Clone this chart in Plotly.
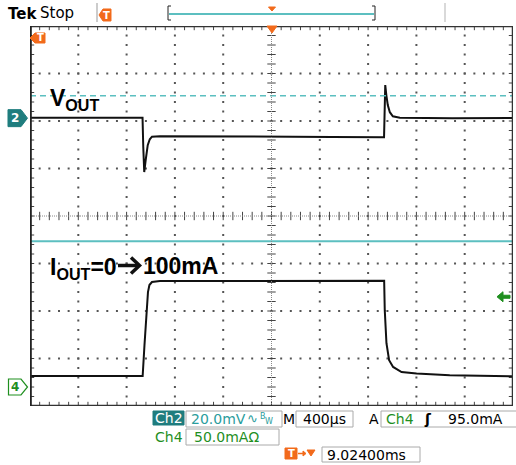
import plotly.graph_objects as go

# ---- acquisition data (time in µs from left edge of screen, 400 µs/div) ----
t_vout = [0, 400, 800, 932, 938, 946, 958, 975, 992, 1010, 1076, 1500, 2000, 2500,
          2932, 2937, 2942, 2951, 2963, 2980, 3005, 3063, 3500, 4000]
vout_mv = [0.2, 0.3, 0.2, 0.2, -12.0, -22.7, -17.7, -11.4, -8.9, -7.8, -7.6, -7.6,
           -7.8, -7.9, -8.0, 8.0, 13.9, 9.7, 5.5, 2.5, 0.8, 0.2, 0.0, 0.1]

t_iout = [0, 500, 933, 948, 964, 977, 989, 1010, 1076, 1500, 2000, 2500, 2933,
          2938, 2952, 2974, 3007, 3077, 3201, 3476, 3998]
iout_ma = [11.6, 11.6, 11.6, 44.0, 75.6, 99.9, 107.3, 110.5, 111.5, 111.6, 111.8,
           111.8, 111.8, 80.9, 46.1, 28.2, 21.1, 15.8, 14.1, 12.3, 11.3]

# channel settings
ch2_scale_mv = 20.0
ch4_scale_ma = 50.0
ch2_pos = 2.06      # divisions
ch4_pos = -3.60     # divisions
time_per_div = 400.0
trig_level_ma = 95.0
cursor_dash_div = 2.53
cursor_solid_div = -0.53

# ---- screen geometry (pixels) ----
W, H = 516, 465
L, R, T, B = 30, 513, 26, 406


def px(x):
    return (x - L) / (R - L)


def py(y):
    return (B - y) / (B - T)


TEAL = "#2a9d9d"
TEAL_L = "#5cbfc0"
GREEN = "#1f8f1f"
ORANGE = "#f26a1b"
FONT = "DejaVu Sans"

fig = go.Figure()

# graticule dots on major lines
gx, gy = [], []
for i in range(1, 10):
    if i == 5:
        continue
    for k in range(1, 40):
        gx.append(i)
        gy.append(-4 + k * 0.2)
for j in range(-3, 4):
    if j == 0:
        continue
    for k in range(1, 50):
        gx.append(k * 0.2)
        gy.append(j)
fig.add_trace(go.Scatter(x=gx, y=gy, mode="markers", hoverinfo="skip",
                         marker=dict(symbol="square", size=2, color="#555")))

# centre cross ticks and border ticks
hx = [k * 0.2 for k in range(1, 50)]
vy = [-4 + k * 0.2 for k in range(1, 40)]
tick_ns = dict(symbol="line-ns", size=6, line=dict(width=1, color="#444"))
tick_ew = dict(symbol="line-ew", size=6, line=dict(width=1, color="#444"))
fig.add_trace(go.Scatter(x=hx, y=[0] * len(hx), mode="markers", marker=tick_ns, hoverinfo="skip"))
fig.add_trace(go.Scatter(x=[5] * len(vy), y=vy, mode="markers", marker=tick_ew, hoverinfo="skip"))
fig.add_trace(go.Scatter(x=hx, y=[4] * len(hx), mode="markers", marker=tick_ns, hoverinfo="skip"))
fig.add_trace(go.Scatter(x=hx, y=[-4] * len(hx), mode="markers", marker=tick_ns, hoverinfo="skip"))
fig.add_trace(go.Scatter(x=[0] * len(vy), y=vy, mode="markers", marker=tick_ew, hoverinfo="skip"))
fig.add_trace(go.Scatter(x=[10] * len(vy), y=vy, mode="markers", marker=tick_ew, hoverinfo="skip"))

# cursor lines
fig.add_shape(type="line", x0=0, x1=10, y0=cursor_dash_div, y1=cursor_dash_div,
              line=dict(color=TEAL_L, width=1.5, dash="6px,4px"))
fig.add_shape(type="line", x0=0, x1=10, y0=cursor_solid_div, y1=cursor_solid_div,
              line=dict(color=TEAL_L, width=2))
# centre cross lines
fig.add_shape(type="line", x0=0, x1=10, y0=0, y1=0, line=dict(color="#888", width=1, dash="1px,1px"))
fig.add_shape(type="line", x0=5, x1=5, y0=-4, y1=4, line=dict(color="#888", width=1, dash="1px,1px"))

# waveforms
fig.add_trace(go.Scatter(x=[t / time_per_div for t in t_vout],
                         y=[ch2_pos + v / ch2_scale_mv for v in vout_mv],
                         mode="lines", line=dict(color="#111", width=2), hoverinfo="skip"))
fig.add_trace(go.Scatter(x=[t / time_per_div for t in t_iout],
                         y=[ch4_pos + i / ch4_scale_ma for i in iout_ma],
                         mode="lines", line=dict(color="#111", width=2), hoverinfo="skip"))

# border
fig.add_shape(type="rect", x0=0, x1=10, y0=-4, y1=4, line=dict(color="#333", width=2.5))
fig.add_shape(type="line", x0=0, x1=0, y0=-4, y1=4, line=dict(color="#222", width=3.5))


def prect(x0, y0, x1, y1, fill="white", line="#aaa", lw=1):
    fig.add_shape(type="rect", xref="paper", yref="paper", x0=px(x0), x1=px(x1),
                  y0=py(y1), y1=py(y0), fillcolor=fill, line=dict(color=line, width=lw),
                  layer="above")


def pline(x0, y0, x1, y1, color, w=1):
    fig.add_shape(type="line", xref="paper", yref="paper", x0=px(x0), x1=px(x1),
                  y0=py(y0), y1=py(y1), line=dict(color=color, width=w), layer="above")


def ppath(pts, fill, line=None, lw=1, close=True):
    d = "M " + " L ".join(f"{px(x):.5f},{py(y):.5f}" for x, y in pts) + (" Z" if close else "")
    fig.add_shape(type="path", xref="paper", yref="paper", path=d,
                  fillcolor=fill if close else None,
                  line=dict(color=line or fill, width=lw), layer="above")


def ptext(x, y, text, size=14, color="black", xanchor="left", family=FONT):
    fig.add_annotation(xref="paper", yref="paper", x=px(x), y=py(y), text=text,
                       showarrow=False, xanchor=xanchor, yanchor="middle",
                       font=dict(family=family, size=size, color=color),
                       borderpad=0)


# ---- top status bar ----
ptext(7, 14, "<b>Tek</b>", size=15)
ptext(39, 13, "Stop", size=15)
pline(97, 3, 97, 22, "#bbb", 1.5)
ppath([(99, 15), (103, 9), (111, 9), (111, 21), (103, 21)], ORANGE)
ptext(106.5, 15, "<b>T</b>", size=10, color="white", xanchor="center")
pline(168, 6, 168, 20, "#222", 1)
pline(168, 6, 171, 6, "#222", 1)
pline(168, 20, 171, 20, "#222", 1)
pline(375, 6, 375, 20, "#222", 1)
pline(372, 6, 375, 6, "#222", 1)
pline(372, 20, 375, 20, "#222", 1)
pline(169, 14, 374, 14, TEAL_L, 2)
ppath([(268.5, 7), (275.5, 7), (272, 11)], ORANGE)
pline(445, 3, 445, 22, "#ccc", 1.5)

# trigger position markers on graticule
ppath([(267, 26), (277, 26), (272, 33)], ORANGE)
ppath([(30, 38), (35, 33), (45, 33), (45, 43), (35, 43)], ORANGE)
ptext(40.5, 38, "<b>T</b>", size=10, color="white", xanchor="center")

# channel ground markers
y2 = T + (4 - ch2_pos) * (B - T) / 8
ppath([(8, y2 - 8.5), (21, y2 - 8.5), (27.5, y2), (21, y2 + 8.5), (8, y2 + 8.5)], "#1f7d7e")
ptext(15, y2, "<b>2</b>", size=12, color="white", xanchor="center")
y4 = T + (4 - ch4_pos) * (B - T) / 8
ppath([(8.5, y4 - 8), (21, y4 - 8), (27.5, y4), (21, y4 + 8), (8.5, y4 + 8)], "white", GREEN, 1.2)
ptext(15, y4, "<b>4</b>", size=12, color=GREEN, xanchor="center")

# trigger level arrow (right edge)
yt = T + (4 - (ch4_pos + trig_level_ma / ch4_scale_ma)) * (B - T) / 8
ppath([(497, yt), (503, yt - 5), (503, yt - 1.5), (510, yt - 1.5), (510, yt + 1.5),
       (503, yt + 1.5), (503, yt + 5)], GREEN)

# signal labels
ptext(49, 99, "<b>V<sub>OUT</sub></b>", size=23, family="Liberation Sans")
ptext(49, 268, "<b>I<sub>OUT</sub>=0</b>", size=23, family="Liberation Sans")
ptext(142, 266, "<b>100mA</b>", size=23, family="Liberation Sans")
# heavy arrow between "0" and "100mA"
pline(118, 265.5, 138, 265.5, "#111", 3.5)
ppath([(131, 257.5), (139.5, 265.5), (131, 273.5)], None, "#111", 3.5, close=False)

# ---- bottom readouts ----
prect(153, 411, 184, 425, fill="#1f7d7e", line="#1f7d7e")
ptext(168.5, 418, "Ch2", size=14, color="white", xanchor="center")
prect(186, 411, 282, 427)
ptext(190, 419, "20.0mV", size=14, color=TEAL)
ptext(246, 418, "∿", size=13, color=TEAL)
ptext(259, 416, "B", size=8, color=TEAL)
ptext(264, 421, "W", size=8, color=TEAL)
ptext(288.5, 419, "M", size=14, xanchor="center")
prect(296, 411, 353, 427)
ptext(324.5, 419, "400µs", size=14, xanchor="center")
ptext(373.5, 419, "A", size=14, xanchor="center")
prect(381, 411, 518, 427)
ptext(385, 419, "Ch4", size=14, color=GREEN)
ptext(423, 419, "<b>ʃ</b>", size=14)
ptext(447, 419, "95.0mA", size=14)

ptext(168.5, 436.5, "Ch4", size=14, color=GREEN, xanchor="center")
prect(186, 429, 279, 445)
ptext(193, 437, "50.0mAΩ", size=14, color=GREEN)

prect(285, 448, 297, 459, fill=ORANGE, line=ORANGE)
ptext(291, 453.5, "<b>T</b>", size=10, color="white", xanchor="center")
pline(298, 453.5, 305, 453.5, ORANGE, 1.5)
ppath([(303, 451), (306, 453.5), (303, 456)], ORANGE)
ppath([(307, 450), (315, 450), (311, 456)], ORANGE)
prect(322, 447, 420, 462)
ptext(326, 455, "9.02400ms", size=14)

fig.update_layout(
    width=W, height=H,
    margin=dict(l=L, r=W - R, t=T, b=H - B, pad=0),
    paper_bgcolor="white", plot_bgcolor="white",
    showlegend=False,
    xaxis=dict(range=[0, 10], visible=False, fixedrange=True),
    yaxis=dict(range=[-4, 4], visible=False, fixedrange=True),
)

fig.write_html("out.html")
